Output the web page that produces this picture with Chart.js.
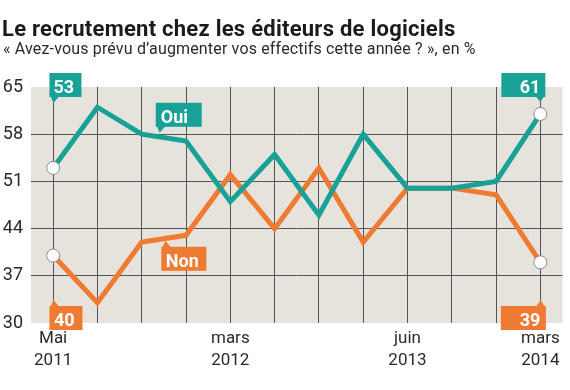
<!DOCTYPE html>
<html><head><meta charset="utf-8">
<script src="https://cdn.jsdelivr.net/npm/chart.js@4/dist/chart.umd.min.js"></script>
<style>
html,body{margin:0;padding:0;background:#fff;}
#wrap{position:relative;width:570px;height:390px;overflow:hidden;font-family:Roboto, sans-serif;}
canvas{position:absolute;left:0;top:0;}
#title{position:absolute;left:2px;top:18px;font-size:22px;line-height:22px;font-weight:bold;color:#1b1b1b;white-space:nowrap;letter-spacing:0.25px;}
#sub{position:absolute;left:3px;top:41px;font-size:16px;line-height:16px;color:#2a2a2a;white-space:nowrap;letter-spacing:0.16px;}
</style></head>
<body><div id="wrap"><canvas id="c" width="570" height="390"></canvas>
<div id="title">Le recrutement chez les éditeurs de logiciels</div>
<div id="sub">« Avez-vous prévu d’augmenter vos effectifs cette année ? », en %</div></div>
<script>
const categories = [["Mai","2011"],"","","",["mars","2012"],"","","",["juin","2013"],"","",["mars","2014"]];
const oui = [53,62,58,57,48,55,46,58,50,50,51,61];
const non = [40,33,42,43,52,44,53,42,50,50,49,39];
const yTicks = [30,37,44,51,58,65];
const seriesNames = ["Oui","Non"];

const TEAL = '#18a196';
const ORANGE = '#ef7a32';
const BG = '#e6e3dc';
const GRID = '#555555';
const FONT = 'Roboto, sans-serif';

const last = oui.length - 1;
const endRadius = ctx => (ctx.dataIndex === 0 || ctx.dataIndex === last) ? 6.5 : 0;

const bgPlugin = {
  id: 'bg',
  beforeDraw(chart) {
    const a = chart.chartArea, c = chart.ctx;
    c.save(); c.fillStyle = BG; c.fillRect(a.left, a.top, a.right - a.left, a.bottom - a.top); c.restore();
  }
};

function tailPoly(c, pts) {
  c.beginPath(); c.moveTo(pts[0][0], pts[0][1]);
  for (let i = 1; i < pts.length; i++) c.lineTo(pts[i][0], pts[i][1]);
  c.closePath(); c.fill();
}

const annotPlugin = {
  id: 'annot',
  afterDatasetsDraw(chart) {
    const c = chart.ctx, a = chart.chartArea, xs = chart.scales.x, ys = chart.scales.y;
    const H = 24;
    const notes = [
      { text: String(oui[0]), color: TEAL, L: xs.getPixelForValue(0) - 3.7, W: 32, T: a.top - 14, tail: 'bl', pad: 4, align: 'left' },
      { text: String(non[0]), color: ORANGE, L: xs.getPixelForValue(0) - 3.7, W: 33, T: a.bottom - 17, tail: 'tl', pad: 4.5, align: 'left' },
      { text: String(oui[last]), color: TEAL, L: xs.getPixelForValue(last) + 5 - 44, W: 44, T: a.top - 14, tail: 'br', pad: 5, align: 'right' },
      { text: String(non[last]), color: ORANGE, L: xs.getPixelForValue(last) + 5.5 - 45, W: 45, T: a.bottom - 17, tail: 'tr', pad: 5.5, align: 'right' },
      { text: seriesNames[0], color: TEAL, L: xs.getPixelForValue(2) + 14, W: 46, T: ys.getPixelForValue(59.1) - H, tail: 'bl', pad: 5, align: 'left' },
      { text: seriesNames[1], color: ORANGE, L: xs.getPixelForValue(2) + 19.6, W: 45, T: ys.getPixelForValue(41.3), tail: 'tl', pad: 4.5, align: 'left' }
    ];
    c.save();
    c.font = 'bold 18px ' + FONT;
    c.textBaseline = 'alphabetic';
    notes.forEach(n => {
      const L = n.L, T = n.T, R = L + n.W, B = T + H;
      c.fillStyle = n.color;
      c.fillRect(L, T, n.W, H);
      if (n.tail === 'bl') tailPoly(c, [[L + 1, B - 1], [L + 10, B - 1], [L + 4, B + 6]]);
      if (n.tail === 'tl') tailPoly(c, [[L + 1, T + 1], [L + 10, T + 1], [L + 4, T - 6]]);
      if (n.tail === 'br') tailPoly(c, [[R - 10, B - 1], [R - 1, B - 1], [R - 5, B + 5]]);
      if (n.tail === 'tr') tailPoly(c, [[R - 10, T + 1], [R - 1, T + 1], [R - 5, T - 6]]);
      c.fillStyle = '#ffffff';
      if (n.align === 'left') { c.textAlign = 'left'; c.fillText(n.text, L + n.pad, T + 20); }
      else { c.textAlign = 'right'; c.fillText(n.text, R - n.pad, T + 20); }
    });
    c.restore();
  }
};

new Chart(document.getElementById('c'), {
  type: 'line',
  data: {
    labels: categories,
    datasets: [
      { label: seriesNames[0], data: oui, borderColor: TEAL, borderWidth: 5, tension: 0,
        pointRadius: endRadius, pointHoverRadius: endRadius, pointBackgroundColor: '#ffffff', pointBorderColor: '#8a8a8a', pointBorderWidth: 1, borderJoinStyle: 'miter' },
      { label: seriesNames[1], data: non, borderColor: ORANGE, borderWidth: 5, tension: 0,
        pointRadius: endRadius, pointHoverRadius: endRadius, pointBackgroundColor: '#ffffff', pointBorderColor: '#8a8a8a', pointBorderWidth: 1, borderJoinStyle: 'miter' }
    ]
  },
  options: {
    responsive: false, animation: false, devicePixelRatio: 1,
    layout: { padding: { top: 87, right: 3, left: 0, bottom: 0 } },
    plugins: { legend: { display: false }, tooltip: { enabled: false }, title: { display: false } },
    scales: {
      x: {
        type: 'category', offset: true,
        grid: { color: GRID, lineWidth: 1, drawTicks: false, offset: false },
        border: { display: false },
        ticks: { autoSkip: false, maxRotation: 0, minRotation: 0, color: '#2a2a2a', padding: 5,
          font: { family: FONT, size: 17, lineHeight: 1.28 } },
        afterFit(s) { s.height = 67; }
      },
      y: {
        min: 30, max: 65,
        afterBuildTicks(s) { s.ticks = yTicks.map(v => ({ value: v })); },
        grid: { color: ctx => (ctx.tick && (ctx.tick.value === 30 || ctx.tick.value === 65)) ? 'rgba(0,0,0,0)' : GRID, lineWidth: 1, drawTicks: false },
        border: { display: false },
        ticks: { color: '#2a2a2a', padding: 8, font: { family: FONT, size: 18 } },
        afterFit(s) { s.width = 31; }
      }
    }
  },
  plugins: [bgPlugin, annotPlugin]
});
</script>
</body></html>
